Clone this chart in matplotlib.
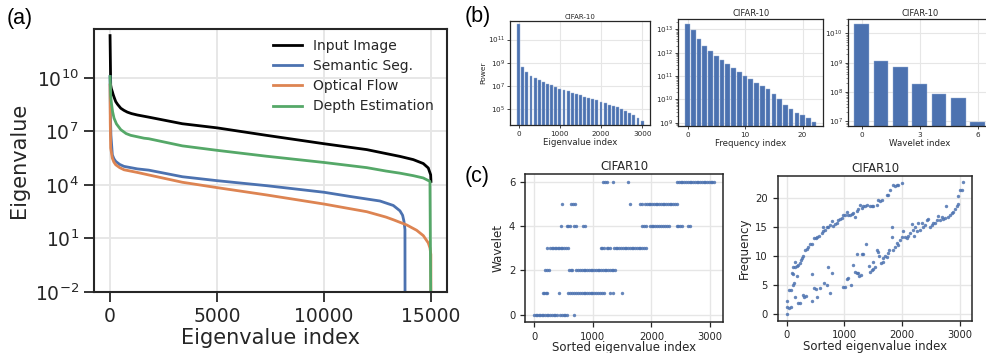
import numpy as np
import matplotlib
matplotlib.use("Agg")
import matplotlib.pyplot as plt
from matplotlib.ticker import LogLocator, NullLocator, FixedLocator

# ---------------- data ----------------
# Panel (a): eigenvalue spectra (values given as log10 of eigenvalue)
input_idx = [0, 30, 60, 107, 150, 200, 266, 350, 500, 650, 810, 1000, 1277, 1808, 3380,
             5000, 7311, 10000, 12000, 12893, 13551, 14174, 14642, 14875, 14986, 15000]
input_log = [12.37, 9.6, 9.4, 9.23, 9.05, 8.88, 8.67, 8.52, 8.3, 8.18, 8.08, 8.0, 7.92,
             7.8, 7.43, 7.2, 6.78, 6.31, 5.98, 5.76, 5.6, 5.42, 5.2, 4.95, 4.57, 4.2]

seg_idx = [0, 15, 40, 62, 107, 180, 266, 450, 654, 1277, 1808, 3380, 5000, 7311, 10000,
           11242, 12617, 13240, 13551, 13675, 13738, 13785, 13790]
seg_log = [10.07, 8.0, 6.8, 6.44, 5.69, 5.47, 5.32, 5.15, 5.04, 4.9, 4.83, 4.46, 4.24,
           3.96, 3.59, 3.35, 3.1, 2.85, 2.55, 2.3, 1.96, 1.5, -4.0]

flow_idx = [0, 10, 30, 107, 180, 266, 450, 654, 1277, 1808, 3380, 5000, 7311, 10000,
            12000, 12893, 13240, 13863, 14330, 14642, 14875, 14953, 14995, 15000]
flow_log = [9.6, 7.5, 6.07, 5.5, 5.28, 5.13, 4.97, 4.85, 4.7, 4.56, 4.15, 3.85, 3.44,
            2.93, 2.5, 2.2, 2.05, 1.76, 1.46, 1.16, 0.75, 0.47, 0.1, -4.0]

depth_idx = [0, 30, 62, 120, 187, 300, 500, 750, 967, 1589, 1808, 3380, 5000, 7311, 10000,
             12000, 12893, 13551, 14174, 14642, 14953, 15000]
depth_log = [10.07, 9.0, 8.6, 8.1, 7.74, 7.42, 7.1, 6.88, 6.78, 6.62, 6.59, 6.19, 5.94,
             5.61, 5.26, 4.97, 4.78, 4.66, 4.52, 4.39, 4.2, -4.0]

series_names = ["Input Image", "Semantic Seg.", "Optical Flow", "Depth Estimation"]

# Panel (b1): power per eigenvalue-index bin (log10)
b1_idx = [0, 100, 200, 300, 400, 500, 600, 700, 800, 900, 1000, 1100, 1200, 1300, 1400,
          1500, 1600, 1700, 1800, 1900, 2000, 2100, 2200, 2300, 2400, 2500, 2600, 2700,
          2800, 2900, 3000]
b1_log = [12.32, 8.62, 8.21, 7.88, 7.68, 7.5, 7.35, 7.18, 7.09, 6.91, 6.74, 6.65, 6.53,
          6.41, 6.26, 6.18, 6.06, 5.94, 5.85, 5.74, 5.62, 5.47, 5.35, 5.24, 5.12, 4.97,
          4.85, 4.68, 4.5, 4.18, 3.97]

# Panel (b2): power per frequency index (log10)
b2_idx = list(range(23))
b2_log = [13.23, 12.97, 12.57, 12.29, 12.09, 11.86, 11.67, 11.51, 11.36, 11.19, 11.01,
          10.86, 10.71, 10.57, 10.43, 10.24, 10.03, 9.76, 9.57, 9.43, 9.33, 9.21, 9.04]

# Panel (b3): power per wavelet index (log10)
b3_idx = [0, 1, 2, 3, 4, 5, 6]
b3_log = [10.32, 9.07, 8.85, 8.28, 7.92, 7.81, 6.97]

# Panel (c1): sorted eigenvalue index for each wavelet level
wav0 = [0, 25, 50, 75, 100, 125, 150, 180, 210, 240, 270, 300, 330, 360, 390, 440, 480,
        505, 530, 555, 683]
wav1 = [142, 165, 199, 222, 421, 581, 609, 640, 670, 712, 751, 780, 808, 840, 865, 905,
        939, 968, 990, 1019, 1053, 1087, 1122, 1150, 1196, 1292, 1338, 1503]
wav2 = [182, 222, 256, 590, 620, 650, 720, 750, 780, 810, 840, 870, 900, 930, 960, 990,
        1020, 1050, 1080, 1110, 1140, 1170, 1200, 1230, 1260, 1290, 1320, 1350, 1380]
wav3 = [211, 268, 295, 320, 345, 370, 400, 430, 455, 480, 510, 540, 570, 1139, 1160,
        1195, 1235, 1264, 1290, 1361, 1390, 1420, 1450, 1480, 1510, 1540, 1570, 1600,
        1630, 1660, 1690, 1720, 1750, 1780, 1810, 1840, 1870, 1900]
wav4 = [450, 552, 580, 609, 677, 712, 825, 865, 1845, 1870, 1900, 1975, 2005, 2035, 2065,
        2095, 2130, 2165, 2200, 2235, 2270, 2300, 2431, 2460, 2490, 2530, 2630, 2659]
wav5 = [478, 626, 660, 695, 1634, 1805, 1840, 1890, 1920, 1950, 1980, 2010, 2040, 2070,
        2100, 2130, 2160, 2190, 2220, 2250, 2280, 2310, 2340, 2370, 2400, 2440]
wav6 = [1178, 1205, 1235, 1349, 1594, 2440, 2470, 2500, 2530, 2560, 2590, 2620, 2650,
        2680, 2710, 2740, 2770, 2800, 2830, 2860, 2890, 2920, 2950, 2980, 3010, 3040, 3070]
wavelet_levels = [wav0, wav1, wav2, wav3, wav4, wav5, wav6]

# Panel (c2): sorted eigenvalue index vs frequency
freq_x = [0, 12, 12, 46, 69, 35, 69, 104, 127, 92, 115, 115, 150, 185, 144, 173, 202, 231,
          242, 265, 288, 317, 346, 375, 404, 438, 473, 508, 531, 565, 606, 635, 663, 623,
          692, 721, 750, 779, 808, 837, 865, 894, 923, 952, 981, 1010, 1038, 1067, 1096,
          1125, 1154, 1183, 1211, 1240, 1269, 1298, 1327, 1356, 1385, 1442, 1471, 1500,
          1558, 1587, 1615, 1644, 1731, 1760, 1789, 1846, 1875, 1904, 1933, 1990,
          144, 190, 231, 277, 300, 335, 433, 473, 508, 531, 577, 433, 652, 704, 721, 750,
          779, 981, 1010, 1038, 1067, 1108, 1154, 1183, 1211, 1240, 1258, 1281, 1211, 1298,
          1327, 1373, 1425, 1442, 1471, 1500, 1529, 1500, 1558, 1587, 1598, 1633, 1661,
          1673, 1702, 1731, 1760, 1777, 1829, 1817, 1846, 1875, 1904, 1933, 1961, 1990,
          2019, 2048, 2077, 2106, 2135, 2163, 2181, 2210, 2221, 2250, 2279, 2308, 2336,
          2365, 2394, 2423, 2452, 2481, 2510, 2538, 2567, 2596, 2625, 2654, 2683, 2711,
          2740, 2758, 2798, 2827, 2856, 2885, 2913, 2942, 2971, 2971, 3000, 3029, 3058]
freq_y = [0.0, 2.3, 1.3, 1.0, 1.2, 4.1, 4.2, 5.0, 5.4, 7.0, 6.9, 8.1, 8.1, 8.2, 9.0, 6.6,
          8.5, 8.7, 9.3, 9.6, 10.0, 11.0, 11.1, 11.5, 12.1, 12.0, 13.0, 13.0, 13.2, 13.4,
          13.9, 14.2, 14.5, 15.0, 14.9, 15.0, 15.3, 16.0, 15.1, 15.4, 15.7, 16.1, 16.3,
          16.5, 17.0, 17.0, 17.5, 17.1, 17.0, 17.2, 17.4, 16.7, 17.7, 18.0, 18.7, 18.3,
          18.5, 18.6, 18.7, 18.5, 18.5, 18.6, 18.7, 19.6, 19.4, 19.6, 20.5, 20.5, 21.4,
          22.1, 22.0, 22.1, 22.1, 22.6,
          3.0, 1.9, 1.9, 3.2, 3.0, 3.1, 2.3, 4.5, 4.3, 3.0, 4.5, 6.9, 5.4, 5.0, 8.1, 3.6,
          7.1, 4.6, 4.6, 6.0, 6.2, 5.0, 8.5, 7.2, 7.1, 7.0, 6.6, 6.7, 10.3, 10.3,
          10.3, 12.0, 8.3, 7.3, 7.6, 7.8, 8.1, 9.0, 11.0, 10.7, 9.9, 8.7, 9.0,
          9.6, 10.0, 9.8, 10.5, 11.0, 13.3, 15.0, 11.0, 11.6, 12.2, 11.9, 12.7, 13.2,
          14.2, 13.2, 13.0, 13.4, 13.9, 15.5, 14.5, 13.4, 14.9, 14.2, 15.7, 14.5, 15.6,
          14.9, 15.3, 16.2, 16.3, 14.9, 15.3, 15.6, 15.7, 16.1, 16.9, 16.2, 16.7, 16.3,
          16.5, 18.6, 16.7, 17.0, 17.3, 17.6, 18.1, 18.5, 18.9, 20.2, 21.3, 21.3, 22.7]

# ---------------- style ----------------
W, H = 987, 353
BLUE, ORANGE, GREEN = "#4C72B0", "#DD8452", "#55A868"
DARK = "#262626"
GRID = "#E6E6E6"
plt.rcParams.update({
    "font.family": ["DejaVu Sans"],
    "text.color": DARK, "axes.labelcolor": DARK,
    "xtick.color": DARK, "ytick.color": DARK,
    "axes.edgecolor": DARK,
})

fig = plt.figure(figsize=(W / 100, H / 100), dpi=100)


def box(l, t, r, b):
    return [l / W, 1 - b / H, (r - l) / W, (b - t) / H]


def style(ax, tick_size, tick_len, tick_w, spine_w):
    ax.grid(True, color=GRID, lw=0.9 * spine_w)
    ax.set_axisbelow(True)
    for s in ax.spines.values():
        s.set_linewidth(spine_w)
    ax.tick_params(which="major", labelsize=tick_size, length=tick_len, width=tick_w)
    ax.tick_params(which="minor", length=tick_len * 0.5, width=tick_w * 0.6)


# ---------------- panel (a) ----------------
ax = fig.add_axes(box(94, 29, 447, 292))
curves = [(input_idx, input_log, "black"), (seg_idx, seg_log, BLUE),
          (flow_idx, flow_log, ORANGE), (depth_idx, depth_log, GREEN)]
for (xs, ls, c), name in zip(curves, series_names):
    ax.plot(xs, 10 ** np.array(ls), color=c, lw=2.0, label=name,
            solid_joinstyle="round")
ax.set_yscale("log")
ax.set_ylim(1e-2, 10 ** 12.74)
ax.set_xlim(-750, 15750)
ax.yaxis.set_major_locator(FixedLocator([1e-2, 1e1, 1e4, 1e7, 1e10]))
ax.yaxis.set_minor_locator(NullLocator())
ax.set_xticks([0, 5000, 10000, 15000])
style(ax, 13.5, 7.5, 1.3, 1.5)
ax.set_xlabel("Eigenvalue index", fontsize=15, labelpad=1)
ax.set_ylabel("Eigenvalue", fontsize=15, labelpad=4)
ax.legend(loc="upper right", frameon=False, fontsize=10, handlelength=2.1,
          labelspacing=0.45, borderaxespad=0.3, bbox_to_anchor=(0.99, 1.0))

# ---------------- panel (b) ----------------
b_specs = [
    (box(510, 21.5, 650, 125), b1_idx, b1_log, 70, (-210, 3190), (10 ** 3.6, 10 ** 12.56),
     [0, 1000, 2000, 3000], "Eigenvalue index", 5.0),
    (box(678.3, 19, 823.3, 126), b2_idx, b2_log, 0.8, (-1.6, 23.6), (10 ** 8.86, 10 ** 13.44),
     [0, 10, 20], "Frequency index", 6),
    (box(847.7, 19, 992, 126), b3_idx, b3_log, 0.75, (-0.72, 6.74), (10 ** 6.84, 10 ** 10.49),
     [0, 3, 6], "Wavelet index", 6),
]
for k, (rect, xs, ls, wd, xl, yl, xt, xlab, tsize) in enumerate(b_specs):
    bx = fig.add_axes(rect)
    bx.bar(xs, 10 ** np.array(ls), width=wd, color=BLUE, edgecolor="#9db3d8", lw=0.3,
           bottom=1e-3)
    bx.set_yscale("log")
    bx.set_xlim(*xl)
    bx.set_ylim(*yl)
    bx.set_xticks(xt)
    style(bx, 5.2, 2.5, 0.6, 0.9)
    if k == 0:
        bx.yaxis.set_major_locator(FixedLocator([1e5, 1e7, 1e9, 1e11]))
        bx.yaxis.set_minor_locator(NullLocator())
        bx.set_ylabel("Power", fontsize=5.4, labelpad=1)
    else:
        bx.yaxis.set_major_locator(LogLocator(base=10, numticks=10))
        bx.yaxis.set_minor_locator(LogLocator(base=10, subs=np.arange(2, 10), numticks=20))
    bx.tick_params(axis="x", pad=1.5)
    bx.tick_params(axis="y", pad=1)
    bx.set_title("CIFAR-10", fontsize=tsize, pad=2)
    bx.set_xlabel(xlab, fontsize=6.2, labelpad=1)

# ---------------- panel (c) ----------------
cx = fig.add_axes(box(525, 174.3, 723.3, 322.3))
for lvl, xs in enumerate(wavelet_levels):
    cx.scatter(xs, [lvl] * len(xs), s=6, color=BLUE, alpha=0.85, linewidths=0)
cx.set_xlim(-159, 3227)
cx.set_ylim(-0.34, 6.33)
cx.set_xticks([0, 1000, 2000, 3000])
cx.set_yticks([0, 2, 4, 6])
style(cx, 7.2, 3.5, 0.9, 1.1)
cx.set_title("CIFAR10", fontsize=8.5, pad=3)
cx.set_xlabel("Sorted eigenvalue index", fontsize=8.5, labelpad=-1)
cx.set_ylabel("Wavelet", fontsize=8.6, labelpad=3)

cx2 = fig.add_axes(box(777.7, 175.7, 972.3, 320.7))
cx2.scatter(freq_x, freq_y, s=6, color=BLUE, alpha=0.85, linewidths=0)
cx2.set_xlim(-153, 3211)
cx2.set_ylim(-1.13, 23.77)
cx2.set_xticks([0, 1000, 2000, 3000])
cx2.set_yticks([0, 5, 10, 15, 20])
style(cx2, 7.2, 3.5, 0.9, 1.1)
cx2.set_title("CIFAR10", fontsize=8.5, pad=3)
cx2.set_xlabel("Sorted eigenvalue index", fontsize=8.5, labelpad=0)
cx2.set_ylabel("Frequency", fontsize=8.6, labelpad=3)

# ---------------- panel letters ----------------
for txt, x, y in [("(a)", 7, 8), ("(b)", 465, 6), ("(c)", 465, 166)]:
    fig.text(x / W, 1 - y / H, txt, fontsize=15.5, family=["Liberation Sans", "DejaVu Sans"],
             ha="left", va="top", color="black")

fig.savefig("out.png", dpi=100)
